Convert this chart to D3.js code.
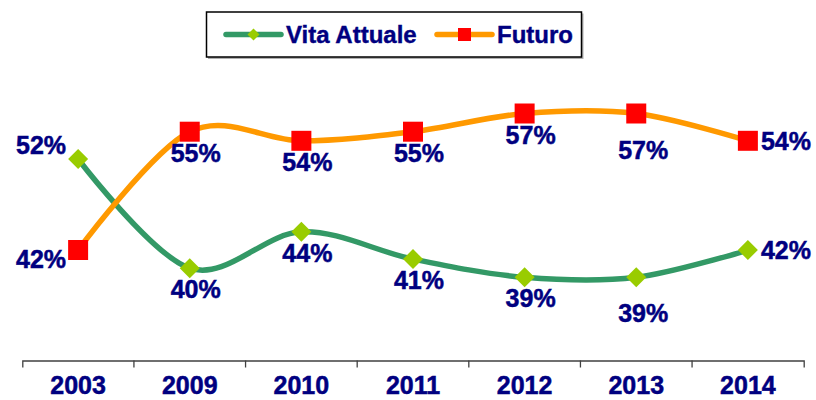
<!DOCTYPE html>
<html>
<head>
<meta charset="utf-8">
<script src="https://cdn.jsdelivr.net/npm/d3@7"></script>
<style>
body{margin:0;background:#fff}
svg{display:block;font-family:Arial,"Liberation Sans",sans-serif;font-weight:bold}
</style>
</head>
<body>
<svg id="chart" width="816" height="400"></svg>
<script>
var years = ['2003','2009','2010','2011','2012','2013','2014']
var vitaAttuale = [52, 40, 44, 41, 39, 39, 42]
var futuro = [42, 55, 54, 55, 57, 57, 54]
var seriesNames = ['Vita Attuale', 'Futuro']
// where each value label sits next to its point
var vitaLabelPos = ['upleft','below','below','below','below','lower','right']
var futuroLabelPos = ['downleft','below','below','below','below','lower','right']

var navy = '#000080'
var width = 816, height = 400

var svg = d3.select('#chart')

var x = d3.scalePoint().domain(years).range([22.3, 803.7]).padding(0.5)
var xBand = d3.scaleBand().domain(years).range([22.3, 803.7])
var y = d3.scaleLinear().domain([30, 60]).range([359.2, 86.2])

// label placement rules
var place = {
  upleft:   {anchor: 'end',    dx: -12, dy: -5},
  downleft: {anchor: 'end',    dx: -12, dy: 18},
  below:    {anchor: 'middle', dx: 6,   dy: 30},
  lower:    {anchor: 'middle', dx: 7,   dy: 45},
  right:    {anchor: 'start',  dx: 13,  dy: 9}
}

var series = [
  {name: seriesNames[0], values: vitaAttuale, pos: vitaLabelPos, line: '#339966', fill: '#99CC00', marker: 'diamond'},
  {name: seriesNames[1], values: futuro, pos: futuroLabelPos, line: '#FF9900', fill: '#FF0000', marker: 'square'}
]

// x axis
var axisG = svg.append('g')
  .attr('transform', 'translate(0,360.5)')
  .call(d3.axisBottom(xBand).tickSizeInner(0).tickSizeOuter(7))

axisG.select('.domain').attr('stroke', '#404040').attr('stroke-width', 1.3)
axisG.selectAll('.tick text')
  .attr('y', 33.5).attr('dy', 0)
  .attr('fill', navy)
  .attr('stroke', navy).attr('stroke-width', 0.5)
  .style('font-size', '25px')
  .style('font-family', 'Arial, "Liberation Sans", sans-serif')
  .style('font-weight', 'bold')

axisG.selectAll('.boundary')
  .data(years.slice(1))
  .enter()
  .append('line')
  .attr('class', 'boundary')
  .attr('x1', function(d) {return xBand(d)})
  .attr('x2', function(d) {return xBand(d)})
  .attr('y1', 0).attr('y2', 7)
  .attr('stroke', '#404040').attr('stroke-width', 1.3)

var line = d3.line()
  .x(function(d, i) {return x(years[i])})
  .y(function(d) {return y(d)})
  .curve(d3.curveCatmullRom.alpha(0))

// diamonds are squares turned 45 degrees
function markerPath(size) {
  return d3.symbol(d3.symbolSquare, size)()
}

series.forEach(function(s) {
  svg.append('path')
    .attr('d', line(s.values))
    .attr('fill', 'none')
    .attr('stroke', s.line)
    .attr('stroke-width', 5.5)
    .attr('stroke-linecap', 'round')
})

series.forEach(function(s) {
  svg.selectAll('.m-' + s.marker)
    .data(s.values)
    .enter()
    .append('path')
    .attr('class', 'm-' + s.marker)
    .attr('d', markerPath(s.marker === 'diamond' ? 200 : 400))
    .attr('transform', function(d, i) {
      return 'translate(' + x(years[i]) + ',' + y(d) + ')' + (s.marker === 'diamond' ? ' rotate(45)' : '')
    })
    .attr('fill', s.fill)

  svg.selectAll('.lbl-' + s.marker)
    .data(s.values)
    .enter()
    .append('text')
    .attr('class', 'lbl-' + s.marker)
    .attr('x', function(d, i) {return x(years[i]) + place[s.pos[i]].dx})
    .attr('y', function(d, i) {return y(d) + place[s.pos[i]].dy})
    .attr('text-anchor', function(d, i) {return place[s.pos[i]].anchor})
    .attr('fill', navy)
    .attr('stroke', navy).attr('stroke-width', 0.5)
    .style('font-size', '25px')
    .text(function(d) {return d + '%'})
})

// legend
var legend = svg.append('g')
legend.append('rect')
  .attr('x', 208).attr('y', 13.5).attr('width', 375.5).attr('height', 45.5)
  .attr('fill', '#b0b0b0')
legend.append('rect')
  .attr('x', 206.5).attr('y', 12).attr('width', 375).attr('height', 45)
  .attr('fill', '#fff').attr('stroke', '#000').attr('stroke-width', 1.5)

var legendX = [226, 437]
series.forEach(function(s, i) {
  var lx = legendX[i]
  legend.append('line')
    .attr('x1', lx).attr('x2', lx + 55)
    .attr('y1', 34.5).attr('y2', 34.5)
    .attr('stroke', s.line).attr('stroke-width', 5.5)
    .attr('stroke-linecap', 'round')
  legend.append('path')
    .attr('d', markerPath(s.marker === 'diamond' ? 72 : 169))
    .attr('transform', 'translate(' + (lx + 27.5) + ',34.5)' + (s.marker === 'diamond' ? ' rotate(45)' : ''))
    .attr('fill', s.fill)
  legend.append('text')
    .attr('x', lx + 60).attr('y', 43)
    .attr('fill', navy)
    .attr('stroke', navy).attr('stroke-width', 0.4)
    .style('font-size', '24px')
    .text(s.name)
})
</script>
</body>
</html>
